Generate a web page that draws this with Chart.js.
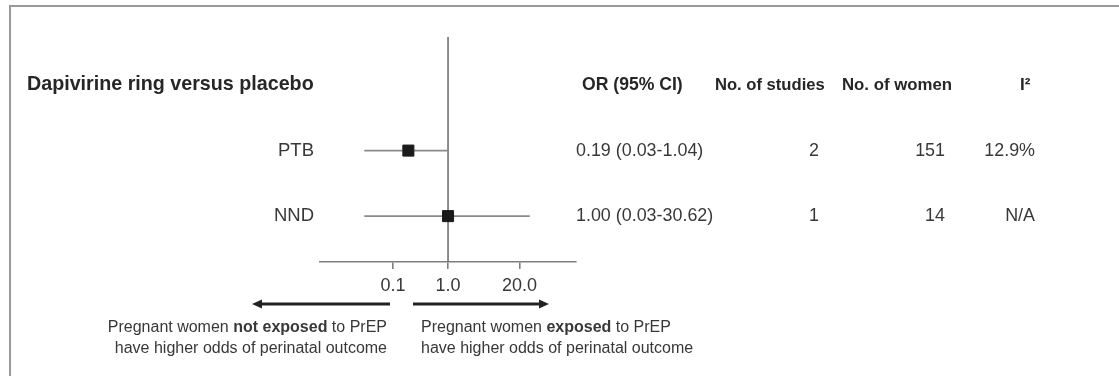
<!DOCTYPE html>
<html>
<head>
<meta charset="utf-8">
<script src="https://cdn.jsdelivr.net/npm/chart.js@4.4.1/dist/chart.umd.min.js"></script>
<style>
  html, body { margin: 0; padding: 0; background: #ffffff; }
  #wrap { position: relative; width: 1119px; height: 376px; }
</style>
</head>
<body>
<div id="wrap"><canvas id="c" width="1119" height="376"></canvas></div>
<script>
// ---- data ----
const title = 'Dapivirine ring versus placebo';
const categories = ['PTB', 'NND'];
const orValues = [0.19, 1.00];
const ciLow = [0.03, 0.03];
const ciHigh = [1.04, 30.62];
const studies = [2, 1];
const women = [151, 14];
const i2Values = ['12.9%', 'N/A'];
const headers = ['OR (95% CI)', 'No. of studies', 'No. of women', 'I\u00B2'];
const tickValues = [0.1, 1, 20];
const tickLabels = ['0.1', '1.0', '20.0'];
const leftNote = [['Pregnant women ', 'not exposed', ' to PrEP'], ['have higher odds of perinatal outcome']];
const rightNote = [['Pregnant women ', 'exposed', ' to PrEP'], ['have higher odds of perinatal outcome']];

const FONT = '"Liberation Sans", Arial, Helvetica, sans-serif';
const TEXT = '#383838';

const fmt = v => v.toFixed(2);
const orText = orValues.map((v, i) => `${fmt(v)} (${fmt(ciLow[i])}-${fmt(ciHigh[i])})`);

// row positions on the y scale: 0 = header row, 1.. = categories
const rowOf = i => i + 1;

const datasets = [];
datasets.push({
  label: 'OR',
  data: orValues.map((v, i) => ({ x: v, y: rowOf(i) })),
  showLine: false,
  pointStyle: 'rect',
  pointRadius: 7.8,
  pointHoverRadius: 7.8,
  backgroundColor: '#1a1a1a',
  borderColor: '#1a1a1a',
  borderWidth: 1
});
categories.forEach((c, i) => {
  datasets.push({
    label: c + ' CI',
    data: [{ x: ciLow[i], y: rowOf(i) }, { x: ciHigh[i], y: rowOf(i) }],
    showLine: true,
    pointRadius: 0,
    borderColor: '#8a8a8a',
    borderWidth: 1.6
  });
});

function drawRich(ctx, parts, x, y, align, size) {
  const fonts = parts.map((p, k) => (k % 2 === 1 ? 'bold ' : '') + size + 'px ' + FONT);
  let widths = parts.map((p, k) => { ctx.font = fonts[k]; return ctx.measureText(p).width; });
  const total = widths.reduce((a, b) => a + b, 0);
  let cx = align === 'right' ? x - total : x;
  ctx.textAlign = 'left';
  parts.forEach((p, k) => { ctx.font = fonts[k]; ctx.fillText(p, cx, y); cx += widths[k]; });
}

function arrow(ctx, x0, x1, y) {
  const dir = Math.sign(x1 - x0);
  ctx.strokeStyle = '#222';
  ctx.fillStyle = '#222';
  ctx.lineWidth = 3;
  ctx.beginPath();
  ctx.moveTo(x0, y);
  ctx.lineTo(x1 - dir * 6, y);
  ctx.stroke();
  ctx.beginPath();
  ctx.moveTo(x1, y);
  ctx.lineTo(x1 - dir * 10, y - 4.5);
  ctx.lineTo(x1 - dir * 10, y + 4.5);
  ctx.closePath();
  ctx.fill();
}

const decor = {
  id: 'decor',
  beforeDraw(chart) {
    const ctx = chart.ctx;
    ctx.save();
    ctx.fillStyle = '#fff';
    ctx.fillRect(0, 0, chart.width, chart.height);
    ctx.strokeStyle = '#9a9a9a';
    ctx.lineWidth = 2;
    ctx.beginPath();
    ctx.moveTo(10, 376);
    ctx.lineTo(10, 6);
    ctx.lineTo(1119, 6);
    ctx.stroke();
    ctx.restore();
  },
  beforeDatasetsDraw(chart) {
    const ctx = chart.ctx, xs = chart.scales.x, a = chart.chartArea;
    const x = xs.getPixelForValue(1);
    ctx.save();
    ctx.strokeStyle = '#707070';
    ctx.lineWidth = 1.6;
    ctx.beginPath();
    ctx.moveTo(x, a.top);
    ctx.lineTo(x, a.bottom);
    ctx.stroke();
    ctx.restore();
  },
  afterDraw(chart) {
    const ctx = chart.ctx, ys = chart.scales.y;
    ctx.save();
    ctx.textBaseline = 'middle';
    const hy = ys.getPixelForValue(0);
    // title
    ctx.fillStyle = '#262626';
    ctx.font = 'bold 19.7px ' + FONT;
    ctx.textAlign = 'left';
    ctx.fillText(title, 27, hy);
    // headers
    ctx.textAlign = 'left';
    ctx.font = 'bold 17.6px ' + FONT;
    ctx.fillText(headers[0], 582, hy);
    ctx.font = 'bold 16.6px ' + FONT;
    ctx.fillText(headers[1], 715, hy);
    ctx.font = 'bold 16.8px ' + FONT;
    ctx.fillText(headers[2], 842, hy);
    ctx.font = 'bold 17px ' + FONT;
    ctx.fillText(headers[3], 1020, hy);
    // rows
    ctx.fillStyle = TEXT;
    categories.forEach((c, i) => {
      const y = ys.getPixelForValue(rowOf(i));
      ctx.font = '18.5px ' + FONT;
      ctx.textAlign = 'right';
      ctx.fillText(c, 314, y);
      ctx.font = '17.9px ' + FONT;
      ctx.textAlign = 'left';
      ctx.fillText(orText[i], 576, y);
      ctx.textAlign = 'right';
      ctx.fillText(String(studies[i]), 819, y);
      ctx.fillText(String(women[i]), 945, y);
      ctx.fillText(i2Values[i], 1035, y);
    });
    // arrows
    arrow(ctx, 390, 252, 304);
    arrow(ctx, 413, 549, 304);
    // notes
    ctx.fillStyle = TEXT;
    drawRich(ctx, leftNote[0], 387, 328, 'right', 16);
    drawRich(ctx, leftNote[1], 387, 349, 'right', 16);
    drawRich(ctx, rightNote[0], 421, 328, 'left', 16);
    drawRich(ctx, rightNote[1], 421, 349, 'left', 16);
    ctx.restore();
  }
};

new Chart(document.getElementById('c'), {
  type: 'scatter',
  data: { datasets },
  plugins: [decor],
  options: {
    responsive: false,
    animation: false,
    events: [],
    layout: { padding: { left: 320, right: 543, top: 37, bottom: 74 } },
    plugins: { legend: { display: false }, tooltip: { enabled: false } },
    scales: {
      x: {
        type: 'logarithmic',
        min: 0.0047,
        max: 212,
        afterBuildTicks: s => { s.ticks = tickValues.map(v => ({ value: v })); },
        afterFit: s => { s.height = 40; },
        border: { display: true, color: '#7f7f7f', width: 1.6 },
        grid: { display: true, drawOnChartArea: false, drawTicks: true, tickLength: 7, tickColor: '#7f7f7f', lineWidth: 1.6 },
        ticks: {
          autoSkip: false,
          maxRotation: 0,
          padding: 6,
          color: TEXT,
          font: { family: FONT, size: 18 },
          callback: (v) => { const k = tickValues.indexOf(v); return k >= 0 ? tickLabels[k] : ''; }
        }
      },
      y: {
        type: 'linear',
        display: false,
        reverse: true,
        min: -0.733,
        max: 2.70
      }
    }
  }
});
</script>
</body>
</html>
